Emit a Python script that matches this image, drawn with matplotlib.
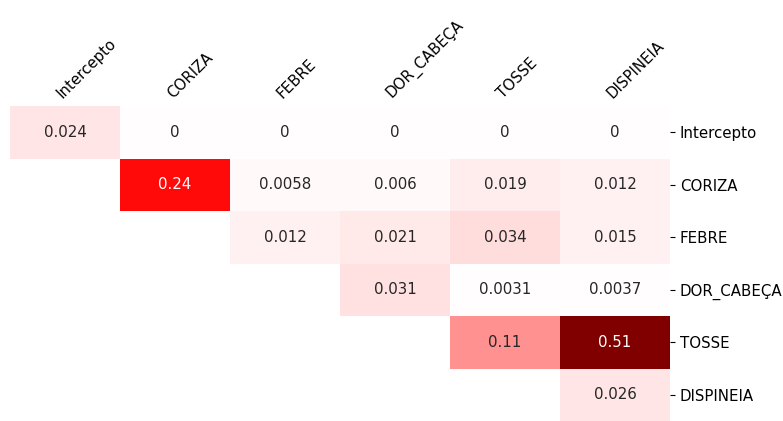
import numpy as np
import pandas as pd
import seaborn as sns
import matplotlib.pyplot as plt

# variable names
labels = ['Intercepto', 'CORIZA', 'FEBRE', 'DOR_CABEÇA', 'TOSSE', 'DISPINEIA']

# upper triangle values, row by row
row_intercepto = [0.024, 0, 0, 0, 0, 0]
row_coriza = [np.nan, 0.2449, 0.0058, 0.006, 0.019, 0.012]
row_febre = [np.nan, np.nan, 0.012, 0.021, 0.034, 0.015]
row_dor = [np.nan, np.nan, np.nan, 0.031, 0.0031, 0.0037]
row_tosse = [np.nan, np.nan, np.nan, np.nan, 0.11, 0.51]
row_disp = [np.nan, np.nan, np.nan, np.nan, np.nan, 0.026]

df = pd.DataFrame([row_intercepto, row_coriza, row_febre, row_dor, row_tosse, row_disp],
                  index=labels, columns=labels)
mask = np.tril(np.ones(df.shape, dtype=bool), k=-1)

fig = plt.figure(figsize=(7.83, 4.21), dpi=100)
ax = fig.add_axes([10/783, 0.0, 660/783, 315/421])

sns.heatmap(df, mask=mask, cmap='seismic', center=0, annot=True, cbar=False, ax=ax,
            annot_kws={'fontsize': 10.8})

ax.xaxis.tick_top()
ax.yaxis.tick_right()
plt.setp(ax.get_xticklabels(), rotation=45, ha='left', rotation_mode='anchor', fontsize=10.8)
plt.setp(ax.get_yticklabels(), rotation=0, fontsize=10.8)
ax.tick_params(axis='x', length=0)
ax.set_xlabel('')
ax.set_ylabel('')

plt.savefig('out.png', dpi=100)
